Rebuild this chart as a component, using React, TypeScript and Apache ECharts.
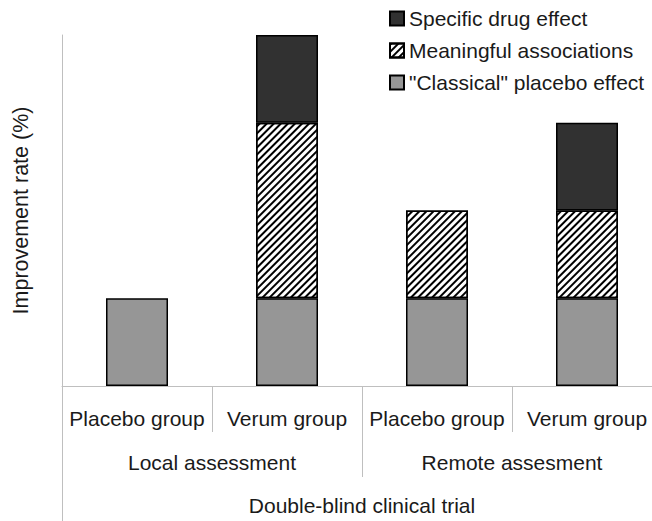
import React, { useEffect, useRef } from "react";
import * as echarts from "echarts";

const groups = ["Placebo group", "Verum group", "Placebo group", "Verum group"];
const assessments = ["Local assessment", "Remote assesment"];
const trial = ["Double-blind clinical trial"];
const seriesNames = ["\"Classical\" placebo effect", "Meaningful associations", "Specific drug effect"];
const classical: (number | null)[] = [1, 1, 1, 1];
const meaningful: (number | null)[] = [null, 2, 1, 1];
const specific: (number | null)[] = [null, 1, null, 1];
const yTitle = "Improvement rate (%)";

const FONT = "Liberation Sans, Arial, sans-serif";
const TEXT = "#1a1a1a";
const AXIS = "#bfbfbf";
const FS = 21;

export default function App() {
  const ref = useRef<HTMLDivElement>(null);
  useEffect(() => {
    document.body.style.margin = "0";
    const chart = echarts.init(ref.current!, null, { renderer: "svg" });
    const border = { borderColor: "#000", borderWidth: 1.5 };
    chart.setOption({
      animation: false,
      backgroundColor: "#fff",
      textStyle: { fontFamily: FONT },
      legend: {
        data: [seriesNames[2], seriesNames[1], seriesNames[0]],
        orient: "vertical",
        left: 384,
        top: 3,
        icon: "rect",
        itemWidth: 14,
        itemHeight: 14,
        itemGap: 11,
        textStyle: { fontSize: FS, color: TEXT, fontFamily: FONT },
      },
      grid: { left: 62, top: 35, height: 351, width: 600, containLabel: false, outerBoundsMode: "none" },
      yAxis: {
        type: "value",
        min: 0,
        max: 4,
        axisLabel: { show: false },
        axisTick: { show: false },
        splitLine: { show: false },
        axisLine: { show: true, lineStyle: { color: AXIS, width: 1 } },
        name: yTitle,
        nameLocation: "middle",
        nameGap: 30,
        nameRotate: 90,
        nameTextStyle: { fontSize: FS + 0.5, color: TEXT, fontFamily: FONT },
      },
      xAxis: [
        {
          type: "category",
          data: groups,
          position: "bottom",
          axisLine: { show: true, lineStyle: { color: AXIS, width: 1 } },
          axisTick: { show: true, interval: 0, length: 46, lineStyle: { color: AXIS } },
          axisLabel: { interval: 0, margin: 22, fontSize: FS, color: TEXT, fontFamily: FONT },
        },
        {
          type: "category",
          data: assessments,
          position: "bottom",
          axisLine: { show: false },
          axisTick: { show: true, interval: 0, length: 91, lineStyle: { color: AXIS } },
          axisLabel: { interval: 0, margin: 66, fontSize: FS, color: TEXT, fontFamily: FONT },
        },
        {
          type: "category",
          data: trial,
          position: "bottom",
          axisLine: { show: false },
          axisTick: { show: true, interval: 0, length: 140, lineStyle: { color: AXIS } },
          axisLabel: { interval: 0, margin: 109, fontSize: FS, color: TEXT, fontFamily: FONT },
        },
      ],
      series: [
        {
          name: seriesNames[0],
          type: "bar",
          stack: "s",
          xAxisIndex: 0,
          barWidth: 62,
          data: classical,
          itemStyle: { color: "#969696", ...border },
        },
        {
          name: seriesNames[1],
          type: "bar",
          stack: "s",
          xAxisIndex: 0,
          barWidth: 62,
          data: meaningful,
          itemStyle: {
            color: "#fff",
            ...border,
            decal: {
              symbol: "rect",
              symbolSize: 1,
              color: "#000",
              backgroundColor: "#fff",
              dashArrayX: [1, 0],
              dashArrayY: [1.5, 3],
              rotation: -Math.PI / 4,
            },
          },
        },
        {
          name: seriesNames[2],
          type: "bar",
          stack: "s",
          xAxisIndex: 0,
          barWidth: 62,
          data: specific,
          itemStyle: { color: "#313131", ...border },
        },
      ],
    });
    return () => chart.dispose();
  }, []);
  return <div ref={ref} style={{ width: 652, height: 521 }} />;
}
